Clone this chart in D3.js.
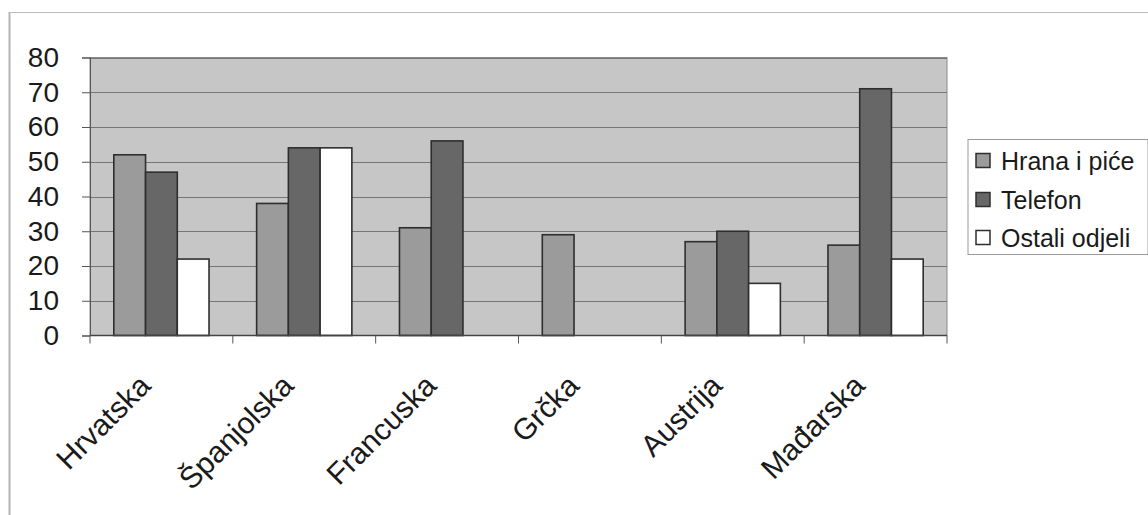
<!DOCTYPE html>
<html>
<head>
<meta charset="utf-8">
<script src="https://cdn.jsdelivr.net/npm/d3@7"></script>
<style>
  html, body { margin: 0; padding: 0; background: #fff; }
  svg { display: block; font-family: "Liberation Sans", Arial, sans-serif; }
</style>
</head>
<body>
<svg id="chart" width="1148" height="515"></svg>
<script>
// ---- data ----
const categories = ["Hrvatska", "Španjolska", "Francuska", "Grčka", "Austrija", "Mađarska"];
const seriesNames = ["Hrana i piće", "Telefon", "Ostali odjeli"];
const hranaIPice = [52, 38, 31, 29, 27, 26];
const telefon = [47, 54, 56, null, 30, 71];
const ostaliOdjeli = [22, 54, null, null, 15, 22];
const yTicks = [0, 10, 20, 30, 40, 50, 60, 70, 80];

const seriesValues = [hranaIPice, telefon, ostaliOdjeli];
const colors = ["#9b9b9b", "#676767", "#ffffff"];

const svg = d3.select("#chart");

// page frame (scanned chart border)
svg.append("line").attr("x1", 9.5).attr("x2", 9.5).attr("y1", 12).attr("y2", 515)
  .attr("stroke", "#b4b4b4").attr("stroke-width", 2);
svg.append("line").attr("x1", 9).attr("x2", 1148).attr("y1", 12.5).attr("y2", 12.5)
  .attr("stroke", "#bdbdbd").attr("stroke-width", 1);

const plot = { left: 90, right: 947, top: 57.5, bottom: 335.5 };

const x0 = d3.scaleBand().domain(categories).range([plot.left, plot.right]).paddingInner(0).paddingOuter(0);
const bw = x0.bandwidth();
const barW = bw / 4.5;
const x1 = d3.scaleBand().domain(seriesNames).range([barW * 0.75, bw - barW * 0.75]).padding(0);
const y = d3.scaleLinear().domain([0, 80]).range([plot.bottom, plot.top]);

// plot area background
svg.append("rect")
  .attr("x", plot.left).attr("y", plot.top)
  .attr("width", plot.right - plot.left).attr("height", plot.bottom - plot.top)
  .attr("fill", "#c6c6c6").attr("stroke", "#8a8a8a").attr("stroke-width", 1);

// gridlines
svg.append("g").selectAll("line").data(yTicks.filter(d => d > 0)).join("line")
  .attr("x1", plot.left).attr("x2", plot.right)
  .attr("y1", d => Math.round(y(d)) + 0.5).attr("y2", d => Math.round(y(d)) + 0.5)
  .attr("stroke", "#767676").attr("stroke-width", 1);

// bars
const groups = svg.append("g").selectAll("g").data(categories).join("g")
  .attr("transform", d => `translate(${x0(d)},0)`);
groups.selectAll("rect")
  .data((c, i) => seriesNames.map((s, k) => ({ s, k, v: seriesValues[k][i] })).filter(d => d.v != null))
  .join("rect")
  .attr("x", d => x1(d.s))
  .attr("y", d => y(d.v))
  .attr("width", x1.bandwidth())
  .attr("height", d => y(0) - y(d.v))
  .attr("fill", d => colors[d.k])
  .attr("stroke", "#2e2e2e").attr("stroke-width", 1.6);

// y axis
const yAxis = d3.axisLeft(y).tickValues(yTicks).tickSize(8).tickPadding(23).tickFormat(d3.format("d"));
const gy = svg.append("g").attr("transform", `translate(${plot.left},0)`).call(yAxis);
gy.select(".domain").attr("stroke", "#555");
gy.selectAll(".tick line").attr("stroke", "#555");
gy.selectAll(".tick text").attr("font-size", 28).attr("fill", "#1a1a1a")
  .attr("font-family", "Liberation Sans, Arial, sans-serif");

// x axis with ticks at category boundaries
const gx = svg.append("g").attr("transform", `translate(0,${plot.bottom})`);
gx.append("line").attr("x1", plot.left).attr("x2", plot.right).attr("y1", 0).attr("y2", 0)
  .attr("stroke", "#444").attr("stroke-width", 1.5);
const boundaries = categories.map(c => x0(c)).concat([plot.right]);
gx.selectAll("line.tk").data(boundaries).join("line").attr("class", "tk")
  .attr("x1", d => d).attr("x2", d => d).attr("y1", 0).attr("y2", 8)
  .attr("stroke", "#555");
gx.selectAll("text").data(categories).join("text")
  .attr("transform", d => `translate(${x0(d) + bw / 2 - 9},${52}) rotate(-45)`)
  .attr("text-anchor", "end")
  .attr("font-size", 30)
  .attr("fill", "#1a1a1a")
  .text(d => d);

// legend
const lg = svg.append("g").attr("transform", "translate(968,139.5)");
lg.append("rect").attr("width", 180).attr("height", 115).attr("fill", "#fff")
  .attr("stroke", "#9a9a9a").attr("stroke-width", 1);
const rowsY = [21, 60, 98];
const items = lg.selectAll("g").data(seriesNames).join("g")
  .attr("transform", (d, i) => `translate(0,${rowsY[i]})`);
items.append("rect").attr("x", 8).attr("y", -7).attr("width", 14).attr("height", 14)
  .attr("fill", (d, i) => colors[i]).attr("stroke", "#2e2e2e").attr("stroke-width", 1.5);
items.append("text").attr("x", 33).attr("y", 9).attr("font-size", 25).attr("fill", "#1a1a1a")
  .text(d => d);
</script>
</body>
</html>
